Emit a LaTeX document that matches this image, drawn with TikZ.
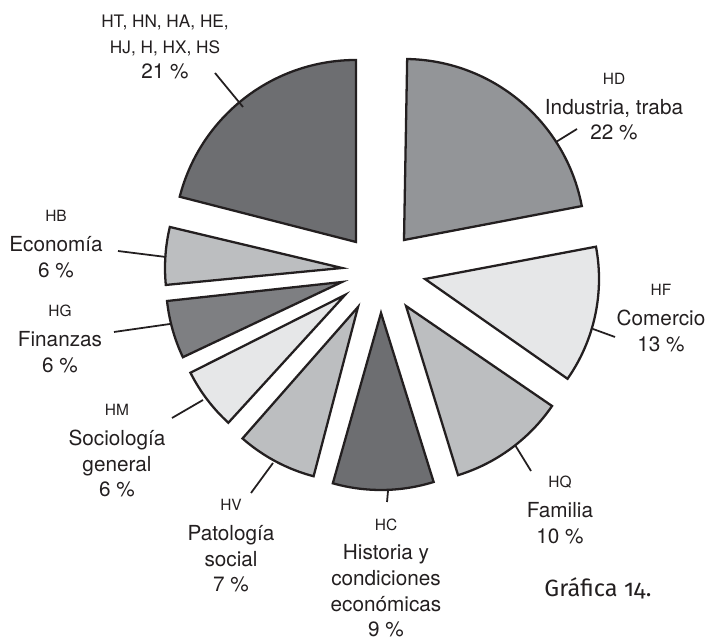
\documentclass[tikz,border=0pt]{standalone}
\usepackage{fontspec}
\setmainfont{TeX Gyre Heros}
\newfontfamily\grafont[Numbers=OldStyle]{Fira Sans}
\definecolor{darkslice}{HTML}{6D6E71}
\definecolor{darkerslice}{HTML}{7E7F82}
\definecolor{midslice}{HTML}{939598}
\definecolor{lightslice}{HTML}{BCBEC0}
\definecolor{paleslice}{HTML}{E6E7E8}
\definecolor{inkgrey}{HTML}{231F20}
\newcommand{\codesize}{\fontsize{8.8}{10}\selectfont}
\tikzset{
  slice/.style={draw=inkgrey, line width=1.3pt},
  leader/.style={draw=inkgrey, line width=1pt},
  lbl/.style={align=center, text=inkgrey, inner sep=0pt, font=\fontsize{11.8}{14.7}\selectfont},
}

\begin{document}
\begin{tikzpicture}[x=0.02cm, y=0.02cm]
                \useasboundingbox (0,0) rectangle (712,641);

                % Slices, clockwise from the top
                \draw[slice, fill=midslice] (404,401) -- ++(10.8:181) arc[start angle=10.8, end angle=89, radius=181] -- cycle;
                \draw[slice, fill=paleslice] (425,362) -- ++(-35:174) arc[start angle=-35, end angle=10.7, radius=174] -- cycle;
                \draw[slice, fill=lightslice] (406,335) -- ++(-72.9:177) arc[start angle=-72.9, end angle=-34.4, radius=177] -- cycle;
                \draw[slice, fill=darkslice] (381,328) -- ++(-105.8:177) arc[start angle=-105.8, end angle=-72.7, radius=177] -- cycle;
                \draw[slice, fill=lightslice] (358,334) -- ++(-131.3:175) arc[start angle=-131.3, end angle=-104.7, radius=175] -- cycle;
                \draw[slice, fill=paleslice] (345,346) -- ++(-153.3:173) arc[start angle=-153.3, end angle=-132.4, radius=173] -- cycle;
                \draw[slice, fill=darkerslice] (342,359) -- ++(-173.8:176) arc[start angle=-173.8, end angle=-154.7, radius=176] -- cycle;
                \draw[slice, fill=lightslice] (342,373) -- ++(166.6:177) arc[start angle=166.6, end angle=185.5, radius=177] -- cycle;
                \draw[slice, fill=darkslice] (356,399) -- ++(90:182) arc[start angle=90, end angle=165.6, radius=182] -- cycle;

                % Labels
                \node[lbl] (ht) at (165,594) {{\fontsize{9.8}{13}\selectfont HT, HN, HA, HE,}\\{\fontsize{9.8}{13}\selectfont HJ, H, HX, HS}\\21 \%};
                \node[lbl] (hd) at (614,534) {{\codesize HD}\\[2pt]Industria, traba\\22 \%};
                \node[lbl] (hf) at (661,323) {{\codesize HF}\\[2pt]Comercio\\13 \%};
                \node[lbl] (hq) at (560,131) {{\codesize HQ}\\[2pt]Familia\\10 \%};
                \node[lbl] (hc) at (386,63) {{\codesize HC}\\[2pt]Historia y\\condiciones\\económicas\\9 \%};
                \node[lbl] (hv) at (231,95) {{\codesize HV}\\[2pt]Patología\\social\\7 \%};
                \node[lbl] (hm) at (117,190) {{\codesize HM}\\[2pt]Sociología\\general\\6 \%};
                \node[lbl] (hg) at (60,302) {{\codesize HG}\\[2pt]Finanzas\\6 \%};
                \node[lbl] (hb) at (56,397) {{\codesize HB}\\[2pt]Economía\\6 \%};
                \node[text=inkgrey, font=\grafont\fontsize{13.4}{16}\selectfont] (caption) at (598,53) {Gráfica 14.};

                % Leader lines
                \coordinate (htarc) at (243,534); \coordinate (htend) at (215,568);
                \coordinate (hdarc) at (556,499); \coordinate (hdend) at (577,512);
                \coordinate (hfarc) at (593,312); \coordinate (hfend) at (615,304);
                \coordinate (hqarc) at (515,196); \coordinate (hqend) at (531,170);
                \coordinate (hcarc) at (388,150); \coordinate (hcend) at (387,139);
                \coordinate (hvarc) at (273,178); \coordinate (hvend) at (251,148);
                \coordinate (hmarc) at (203,241); \coordinate (hmend) at (172,223);
                \coordinate (hgarc) at (170,317); \coordinate (hgend) at (114,309);
                \coordinate (hbarc) at (166,384); \coordinate (hbend) at (118,390);
                \draw[leader] (htarc) -- (htend);
                \draw[leader] (hdarc) -- (hdend);
                \draw[leader] (hfarc) -- (hfend);
                \draw[leader] (hqarc) -- (hqend);
                \draw[leader] (hcarc) -- (hcend);
                \draw[leader] (hvarc) -- (hvend);
                \draw[leader] (hmarc) -- (hmend);
                \draw[leader] (hgarc) -- (hgend);
                \draw[leader] (hbarc) -- (hbend);
\end{tikzpicture}
\end{document}
